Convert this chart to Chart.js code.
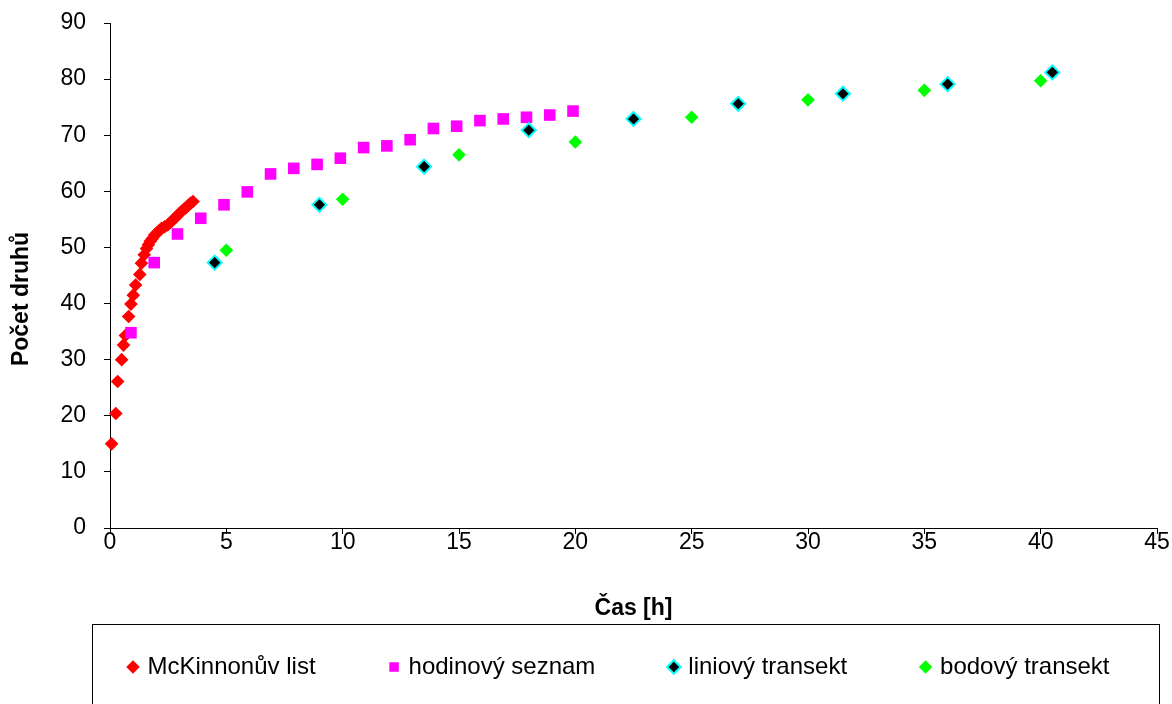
<!DOCTYPE html>
<html lang="cs">
<head>
<meta charset="utf-8">
<title>Počet druhů v čase</title>
<script src="https://cdn.jsdelivr.net/npm/chart.js@4.4.1/dist/chart.umd.min.js"></script>
<style>
    html, body { margin: 0; padding: 0; background: #fff; }
    #wrap { width: 1172px; height: 704px; position: relative; }
</style>
</head>
<body>
<div id="wrap"><canvas id="graf"></canvas></div>
<script>
// Kumulativní počet druhů podle času pro čtyři metody
const mckinnonX = [0.07, 0.25, 0.33, 0.5, 0.58, 0.66, 0.8, 0.9, 1.0, 1.1, 1.28, 1.35, 1.47, 1.57, 1.65, 1.73, 1.82,
    1.92, 2.02, 2.12, 2.22, 2.35, 2.48, 2.58, 2.68, 2.78, 2.88, 2.97, 3.07, 3.17, 3.27, 3.37, 3.47, 3.57];
const mckinnonY = [15, 20.4, 26.1, 30, 32.6, 34.3, 37.7, 39.9, 41.5, 43.3, 45.2, 47.2, 48.7, 49.8, 50.5, 51.1, 51.6,
    52.2, 52.6, 53.0, 53.4, 53.7, 54.0, 54.4, 54.8, 55.2, 55.6, 56.0, 56.4, 56.8, 57.1, 57.5, 57.9, 58.2];

const hodinovyX = [0.9, 1.9, 2.9, 3.9, 4.9, 5.9, 6.9, 7.9, 8.9, 9.9, 10.9, 11.9, 12.9, 13.9, 14.9, 15.9, 16.9, 17.9, 18.9, 19.9];
const hodinovyY = [34.8, 47.3, 52.4, 55.2, 57.6, 59.9, 63.1, 64.1, 64.8, 65.9, 67.8, 68.1, 69.2, 71.2, 71.6, 72.6, 72.9, 73.2, 73.6, 74.3];

const liniovyX = [4.5, 9, 13.5, 18, 22.5, 27, 31.5, 36, 40.5];
const liniovyY = [47.3, 57.6, 64.4, 70.9, 72.9, 75.6, 77.4, 79.1, 81.2];

const bodovyX = [5, 10, 15, 20, 25, 30, 35, 40];
const bodovyY = [49.5, 58.6, 66.5, 68.8, 73.2, 76.3, 78.0, 79.7];

const xTicks = [0, 5, 10, 15, 20, 25, 30, 35, 40, 45];
const yTicks = [0, 10, 20, 30, 40, 50, 60, 70, 80, 90];

const FONT = 'Arial, "Liberation Sans", sans-serif';
// legenda je širší než graf, pravý okraj grafu drží prázdná osa vpravo
const PAD_LEFT = 48;
const PAD_RIGHT = -20;

function toPoints(xs, ys) {
    return xs.map((x, i) => ({ x: x, y: ys[i] }));
}

// popisky os a rámeček legendy
const frameAndTitles = {
    id: 'frameAndTitles',
    afterDraw(chart) {
        const ctx = chart.ctx;
        const area = chart.chartArea;
        ctx.save();
        ctx.strokeStyle = '#000';
        ctx.lineWidth = 1;
        ctx.strokeRect(92.5, 624.5, 1067, 120);

        ctx.fillStyle = '#000';
        ctx.font = 'bold 23px ' + FONT;
        ctx.textAlign = 'center';
        ctx.textBaseline = 'middle';
        ctx.fillText('Čas [h]', (area.left + area.right) / 2, 609);

        ctx.translate(22, 299);
        ctx.rotate(-Math.PI / 2);
        ctx.fillText('Počet druhů', 0, 0);
        ctx.restore();
    }
};

const axisStyle = {
    grid: { display: true, drawOnChartArea: false, drawTicks: true, tickLength: 6, color: '#000', lineWidth: 1 },
    border: { display: true, color: '#000', width: 1 }
};

const ctx = document.getElementById('graf').getContext('2d');
new Chart(ctx, {
    type: 'scatter',
    data: {
        datasets: [{
            label: 'McKinnonův list',
            data: toPoints(mckinnonX, mckinnonY),
            pointStyle: 'rectRot',
            pointRadius: 6.8,
            backgroundColor: '#FF0000',
            borderColor: '#FF0000',
            borderWidth: 0,
            clip: false,
            order: 4
        }, {
            label: 'hodinový seznam',
            data: toPoints(hodinovyX, hodinovyY),
            pointStyle: 'rect',
            pointRadius: 8.2,
            backgroundColor: '#FF00FF',
            borderColor: '#FF00FF',
            borderWidth: 0,
            clip: false,
            order: 3
        }, {
            label: 'liniový transekt',
            data: toPoints(liniovyX, liniovyY),
            pointStyle: 'rectRot',
            pointRadius: 7,
            backgroundColor: '#000000',
            borderColor: '#00FFFF',
            borderWidth: 2,
            clip: false,
            order: 2
        }, {
            label: 'bodový transekt',
            data: toPoints(bodovyX, bodovyY),
            pointStyle: 'rectRot',
            pointRadius: 6.8,
            backgroundColor: '#00FF00',
            borderColor: '#00FF00',
            borderWidth: 0,
            clip: false,
            order: 1
        }]
    },
    options: {
        responsive: true,
        maintainAspectRatio: false,
        animation: false,
        layout: { padding: { left: PAD_LEFT, right: PAD_RIGHT, top: 23, bottom: 15 } },
        plugins: {
            legend: {
                position: 'bottom',
                labels: {
                    usePointStyle: true,
                    boxWidth: 5,
                    boxHeight: 9.5,
                    padding: 76,
                    color: '#000',
                    font: { family: FONT, size: 24 },
                    sort: (a, b) => a.datasetIndex - b.datasetIndex
                }
            },
            tooltip: { enabled: false }
        },
        scales: {
            x: {
                type: 'linear',
                min: 0,
                max: 45,
                afterBuildTicks: axis => { axis.ticks = xTicks.map(v => ({ value: v })); },
                afterFit: axis => { axis.height = 51; },
                ticks: { color: '#000', padding: -3, font: { family: FONT, size: 23, lineHeight: 1 } },
                ...axisStyle
            },
            y: {
                type: 'linear',
                min: 0,
                max: 90,
                afterBuildTicks: axis => { axis.ticks = yTicks.map(v => ({ value: v })); },
                afterFit: axis => {
                    axis.width = 110 - PAD_LEFT;
                    axis.paddingTop = 0;
                    axis.paddingBottom = 0;
                },
                ticks: { color: '#000', padding: 18, font: { family: FONT, size: 23 } },
                ...axisStyle
            },
            okraj: {
                type: 'linear',
                position: 'right',
                grid: { display: false },
                border: { display: false },
                ticks: { display: false },
                afterFit: axis => {
                    axis.width = 1172 - PAD_RIGHT - 1157;
                    axis.paddingTop = 0;
                    axis.paddingBottom = 0;
                }
            }
        }
    },
    plugins: [frameAndTitles]
});
</script>
</body>
</html>
